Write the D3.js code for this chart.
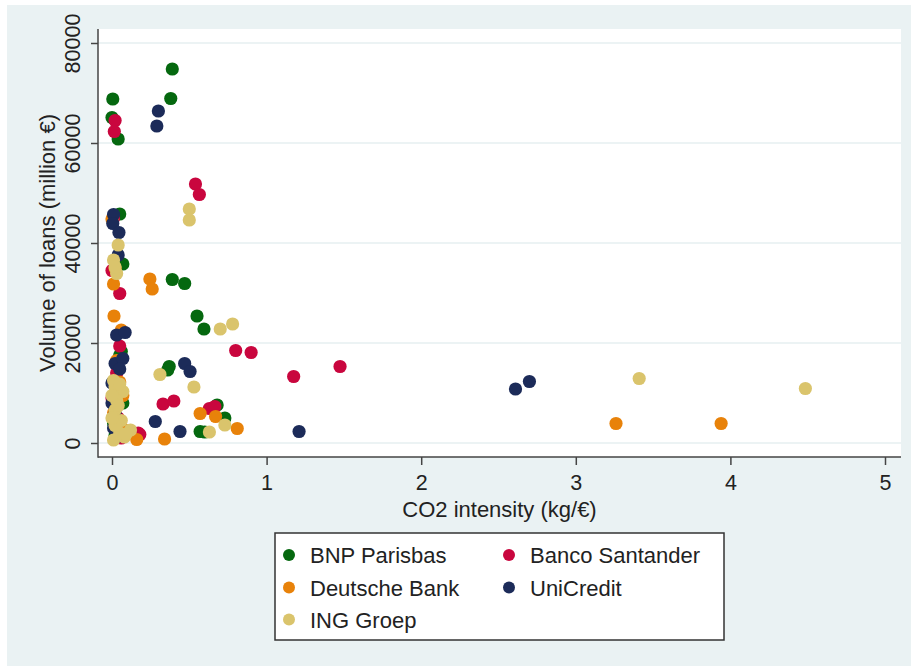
<!DOCTYPE html>
<html>
<head>
<meta charset="utf-8">
<script src="https://cdn.jsdelivr.net/npm/d3@7"></script>
<style>
  body { margin: 0; background: #ffffff; }
  text { font-family: "Liberation Sans", Arial, sans-serif; fill: #222222; }
</style>
</head>
<body>
<div id="canvas"></div>
<script>

// series data
var bnpX = [0.005, 0.0, 0.04, 0.39, 0.38, 0.05, 0.07, 0.39, 0.47, 0.55, 0.595, 0.37, 0.36, 0.06, 0.07, 0.57, 0.60, 0.68, 0.73, 0.02, 0.04, 0.01, 0.03, 0.05];
var bnpY = [68800, 65100, 60800, 74800, 68900, 45800, 35800, 32700, 31900, 25400, 22800, 15300, 14600, 18300, 8000, 2300, 2200, 7600, 5000, 1500, 12000, 4000, 9500, 17500];

var santX = [0.02, 0.015, 0.54, 0.565, 0.0, 0.05, 0.05, 0.33, 0.40, 0.80, 0.90, 1.175, 1.475, 0.63, 0.665, 0.17, 0.18, 0.03, 0.01, 0.06, 0.0, 0.02, 0.04];
var santY = [64500, 62300, 51800, 49700, 34500, 29900, 19400, 7800, 8400, 18500, 18100, 13300, 15300, 6900, 7300, 2000, 1700, 14000, 45000, 1000, 9000, 11500, 5000];

var deutX = [0.245, 0.26, 0.01, 0.013, 0.06, 0.57, 0.67, 0.81, 0.34, 0.16, 0.05, 3.26, 3.94, 0.0, 0.02, 0.08, 0.01, 0.03, 0.09, 0.07];
var deutY = [32800, 30800, 31800, 25400, 22600, 5900, 5300, 2900, 800, 700, 12200, 3900, 3900, 44800, 35000, 1400, 6000, 16500, 2500, 9500];

var uniX = [0.30, 0.29, 0.01, 0.005, 0.045, 0.04, 0.03, 0.085, 0.02, 0.07, 0.28, 0.44, 0.47, 0.505, 1.21, 2.61, 2.70, 0.0, 0.01, 0.03, 0.05, 0.0, 0.02];
var uniY = [66400, 63400, 45700, 43900, 42100, 37600, 21600, 22100, 15900, 16900, 4300, 2300, 15900, 14300, 2300, 10800, 12300, 8000, 3000, 1200, 14800, 12000, 6000];

var ingX = [0.04, 0.01, 0.03, 0.02, 0.50, 0.50, 0.70, 0.78, 0.31, 0.53, 0.73, 0.63, 3.41, 4.485, 0.02, 0.07, 0.02, 0.05, 0.01, 0.12, 0.03, 0.0, 0.08, 0.06, 0.01, 0.04, 0.02, 0.09, 0.0, 0.05];
var ingY = [39600, 36600, 33900, 35200, 46800, 44600, 22800, 23800, 13700, 11200, 3600, 2200, 12900, 10900, 11300, 10300, 6600, 2000, 600, 2600, 8500, 9500, 1200, 4500, 12500, 7500, 3500, 1800, 5000, 11800];

var bankNames = ["BNP Parisbas", "Banco Santander", "Deutsche Bank", "UniCredit", "ING Groep"];
var bankColors = ["#05680f", "#c9063e", "#e8820a", "#1c2b59", "#dac46c"];

var xTicks = [0, 1, 2, 3, 4, 5];
var yTicks = [0, 20000, 40000, 60000, 80000];

var series = [
	{ name: bankNames[0], color: bankColors[0], x: bnpX, y: bnpY },
	{ name: bankNames[1], color: bankColors[1], x: santX, y: santY },
	{ name: bankNames[2], color: bankColors[2], x: deutX, y: deutY },
	{ name: bankNames[3], color: bankColors[3], x: uniX, y: uniY },
	{ name: bankNames[4], color: bankColors[4], x: ingX, y: ingY }
];

var width = 911;
var height = 671;

var svgContainer = d3.select("#canvas").append("svg")
	.attr("width", width)
	.attr("height", height);

// outer graph region
svgContainer.append("rect")
	.attr("x", 7).attr("y", 5)
	.attr("width", 904).attr("height", 661)
	.attr("fill", "#eaf2f3");

// plot region
var plotLeft = 98, plotRight = 901, plotTop = 29, plotBottom = 457;
svgContainer.append("rect")
	.attr("x", plotLeft).attr("y", plotTop)
	.attr("width", plotRight - plotLeft).attr("height", plotBottom - plotTop)
	.attr("fill", "#ffffff");

var x = d3.scaleLinear().domain([0, 5]).range([112, 885]);
var y = d3.scaleLinear().domain([0, 80000]).range([443, 43]);

// grid lines
svgContainer.append("g")
	.selectAll("line")
	.data(yTicks)
	.enter().append("line")
	.attr("x1", plotLeft).attr("x2", plotRight)
	.attr("y1", function(d){ return y(d); })
	.attr("y2", function(d){ return y(d); })
	.attr("stroke", "#e6eff1")
	.attr("stroke-width", 1.5);

// points
series.forEach(function(s){
	var pts = s.x.map(function(v, i){ return [v, s.y[i]]; });
	svgContainer.append("g")
		.selectAll("circle")
		.data(pts)
		.enter().append("circle")
		.attr("cx", function(d){ return x(d[0]); })
		.attr("cy", function(d){ return y(d[1]); })
		.attr("r", 6.6)
		.attr("fill", s.color);
});

// axes
var xAxis = svgContainer.append("g")
	.attr("transform", "translate(0," + plotBottom + ")")
	.call(d3.axisBottom(x).tickValues(xTicks).tickSize(8).tickPadding(10).tickFormat(d3.format("d")));

var yAxis = svgContainer.append("g")
	.attr("transform", "translate(" + plotLeft + ",0)")
	.call(d3.axisLeft(y).tickValues(yTicks).tickSize(7).tickFormat(d3.format("d")));

[xAxis, yAxis].forEach(function(a){
	a.select(".domain").remove();
	a.selectAll("line").attr("stroke", "#444444").attr("stroke-width", 1.5);
	a.selectAll("text").style("font-size", "21.5px").attr("fill", "#222222");
});

// axis lines along the plot region
svgContainer.append("line")
	.attr("x1", plotLeft).attr("x2", plotLeft)
	.attr("y1", plotTop).attr("y2", plotBottom + 0.75)
	.attr("stroke", "#444444").attr("stroke-width", 1.5);
svgContainer.append("line")
	.attr("x1", plotLeft).attr("x2", plotRight)
	.attr("y1", plotBottom).attr("y2", plotBottom)
	.attr("stroke", "#444444").attr("stroke-width", 1.5);

xAxis.selectAll("text").attr("dy", "0.71em");

// rotated y tick labels (tick groups are already moved to y(d))
yAxis.selectAll("text")
	.attr("x", null).attr("dy", null).attr("y", null)
	.attr("text-anchor", "middle")
	.attr("transform", "translate(" + (80 - plotLeft) + ",0) rotate(-90)");

// axis titles
svgContainer.append("text")
	.attr("x", (plotLeft + plotRight) / 2)
	.attr("y", 517)
	.attr("text-anchor", "middle")
	.style("font-size", "22px")
	.text("CO2 intensity (kg/€)");

svgContainer.append("text")
	.attr("transform", "translate(55," + y(40000) + ") rotate(-90)")
	.attr("text-anchor", "middle")
	.style("font-size", "22px")
	.text("Volume of loans (million €)");

// legend
var legend = svgContainer.append("g");
legend.append("rect")
	.attr("x", 275).attr("y", 533)
	.attr("width", 449).attr("height", 107)
	.attr("fill", "#ffffff")
	.attr("stroke", "#333333")
	.attr("stroke-width", 1.5);

var legendCols = [289, 509];
var legendRows = [555, 587.5, 619.5];

var items = legend.selectAll("g.item")
	.data(series)
	.enter().append("g")
	.attr("class", "item")
	.attr("transform", function(d, i){
		return "translate(" + legendCols[i % 2] + "," + legendRows[Math.floor(i / 2)] + ")";
	});

items.append("circle")
	.attr("r", 6)
	.attr("fill", function(d){ return d.color; });

items.append("text")
	.attr("x", 21)
	.attr("y", 8)
	.style("font-size", "22px")
	.text(function(d){ return d.name; });

</script>
</body>
</html>
